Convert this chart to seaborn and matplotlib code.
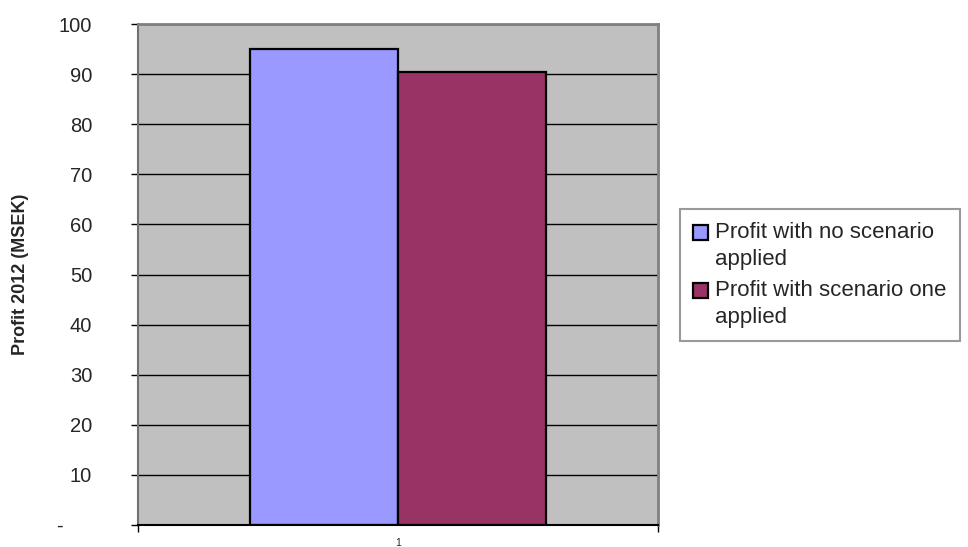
import matplotlib
matplotlib.use("Agg")
import matplotlib.pyplot as plt
import seaborn as sns
import pandas as pd
from matplotlib.ticker import FixedLocator
from matplotlib.patches import Rectangle
from matplotlib.legend_handler import HandlerPatch

# Profit figures for 2012, in MSEK
categories = ["1"]
series_names = ["Profit with no scenario\napplied", "Profit with scenario one\napplied"]
profit_values = [95.0, 90.4]
bar_colors = ["#9999FF", "#993366"]
y_ticks = [0, 10, 20, 30, 40, 50, 60, 70, 80, 90, 100]
y_tick_labels = ["-     ", "10", "20", "30", "40", "50", "60", "70", "80", "90", "100"]

df = pd.DataFrame({
    "category": categories * len(series_names),
    "series": series_names,
    "profit": profit_values,
})

sns.set_theme(style="white")
plt.rcParams["font.family"] = ["Liberation Sans", "DejaVu Sans"]

fig = plt.figure(figsize=(9.68, 5.47), dpi=100)
ax = fig.add_axes([138 / 968, 1 - 525 / 547, 520 / 968, 501 / 547])
ax.set_facecolor("#C0C0C0")

sns.barplot(data=df, x="category", y="profit", hue="series",
            palette=bar_colors, edgecolor="black", linewidth=1.6,
            width=0.571, saturation=1, ax=ax, legend=True)

ax.set_xlim(-0.5, 0.5)
ax.set_ylim(0, 100)

# horizontal gridlines behind the bars
ax.set_axisbelow(True)
ax.yaxis.grid(True, color="black", linewidth=1.0)
ax.xaxis.grid(False)

ax.set_yticks(y_ticks)
ax.set_yticklabels(y_tick_labels, fontsize=14.5)
ax.tick_params(axis="y", direction="out", length=5, width=1, color="black",
               left=True, pad=28)

# category label without a tick mark; tick marks at category boundaries
ax.set_xticks([0])
ax.set_xticklabels(categories, fontsize=7.5)
ax.tick_params(axis="x", which="major", length=0, pad=9)
ax.xaxis.set_minor_locator(FixedLocator([-0.5, 0.5]))
ax.tick_params(axis="x", which="minor", direction="out", length=5, width=1,
               color="black", bottom=True)
ax.set_xlabel("")

ax.set_ylabel("Profit 2012 (MSEK)", fontsize=13, fontweight="bold")
ax.yaxis.set_label_coords((29 - 138) / 520, 0.5)

for side in ["top", "right"]:
    ax.spines[side].set_visible(True)
    ax.spines[side].set_color("#808080")
    ax.spines[side].set_linewidth(2)
ax.spines["left"].set_color("#707070")
ax.spines["left"].set_linewidth(1.5)
ax.spines["bottom"].set_color("black")
ax.spines["bottom"].set_linewidth(1.5)


def top_square(legend, orig_handle, xdescent, ydescent, width, height, fontsize):
    # square key lined up with the first line of a two-line label
    side = width
    return Rectangle((-xdescent, -ydescent + 0.62 * fontsize), side, side)


ax.get_legend().remove()
handles, labels = ax.get_legend_handles_labels()
leg = fig.legend(handles, labels, loc="lower left",
                 bbox_to_anchor=(680 / 968, 1 - 341 / 547),
                 bbox_transform=fig.transFigure, borderaxespad=0,
                 fontsize=16, frameon=True, fancybox=False, shadow=False,
                 handlelength=0.68, handleheight=0.68, handletextpad=0.3,
                 labelspacing=0.45, borderpad=0.6,
                 handler_map={Rectangle: HandlerPatch(patch_func=top_square)})
leg.get_frame().set_edgecolor("#808080")
leg.get_frame().set_linewidth(1.5)
leg.get_frame().set_facecolor("white")
for t in leg.get_texts():
    t.set_linespacing(1.35)
for h in leg.legend_handles:
    h.set_edgecolor("black")
    h.set_linewidth(1.6)

fig.savefig("out.png", dpi=100)
